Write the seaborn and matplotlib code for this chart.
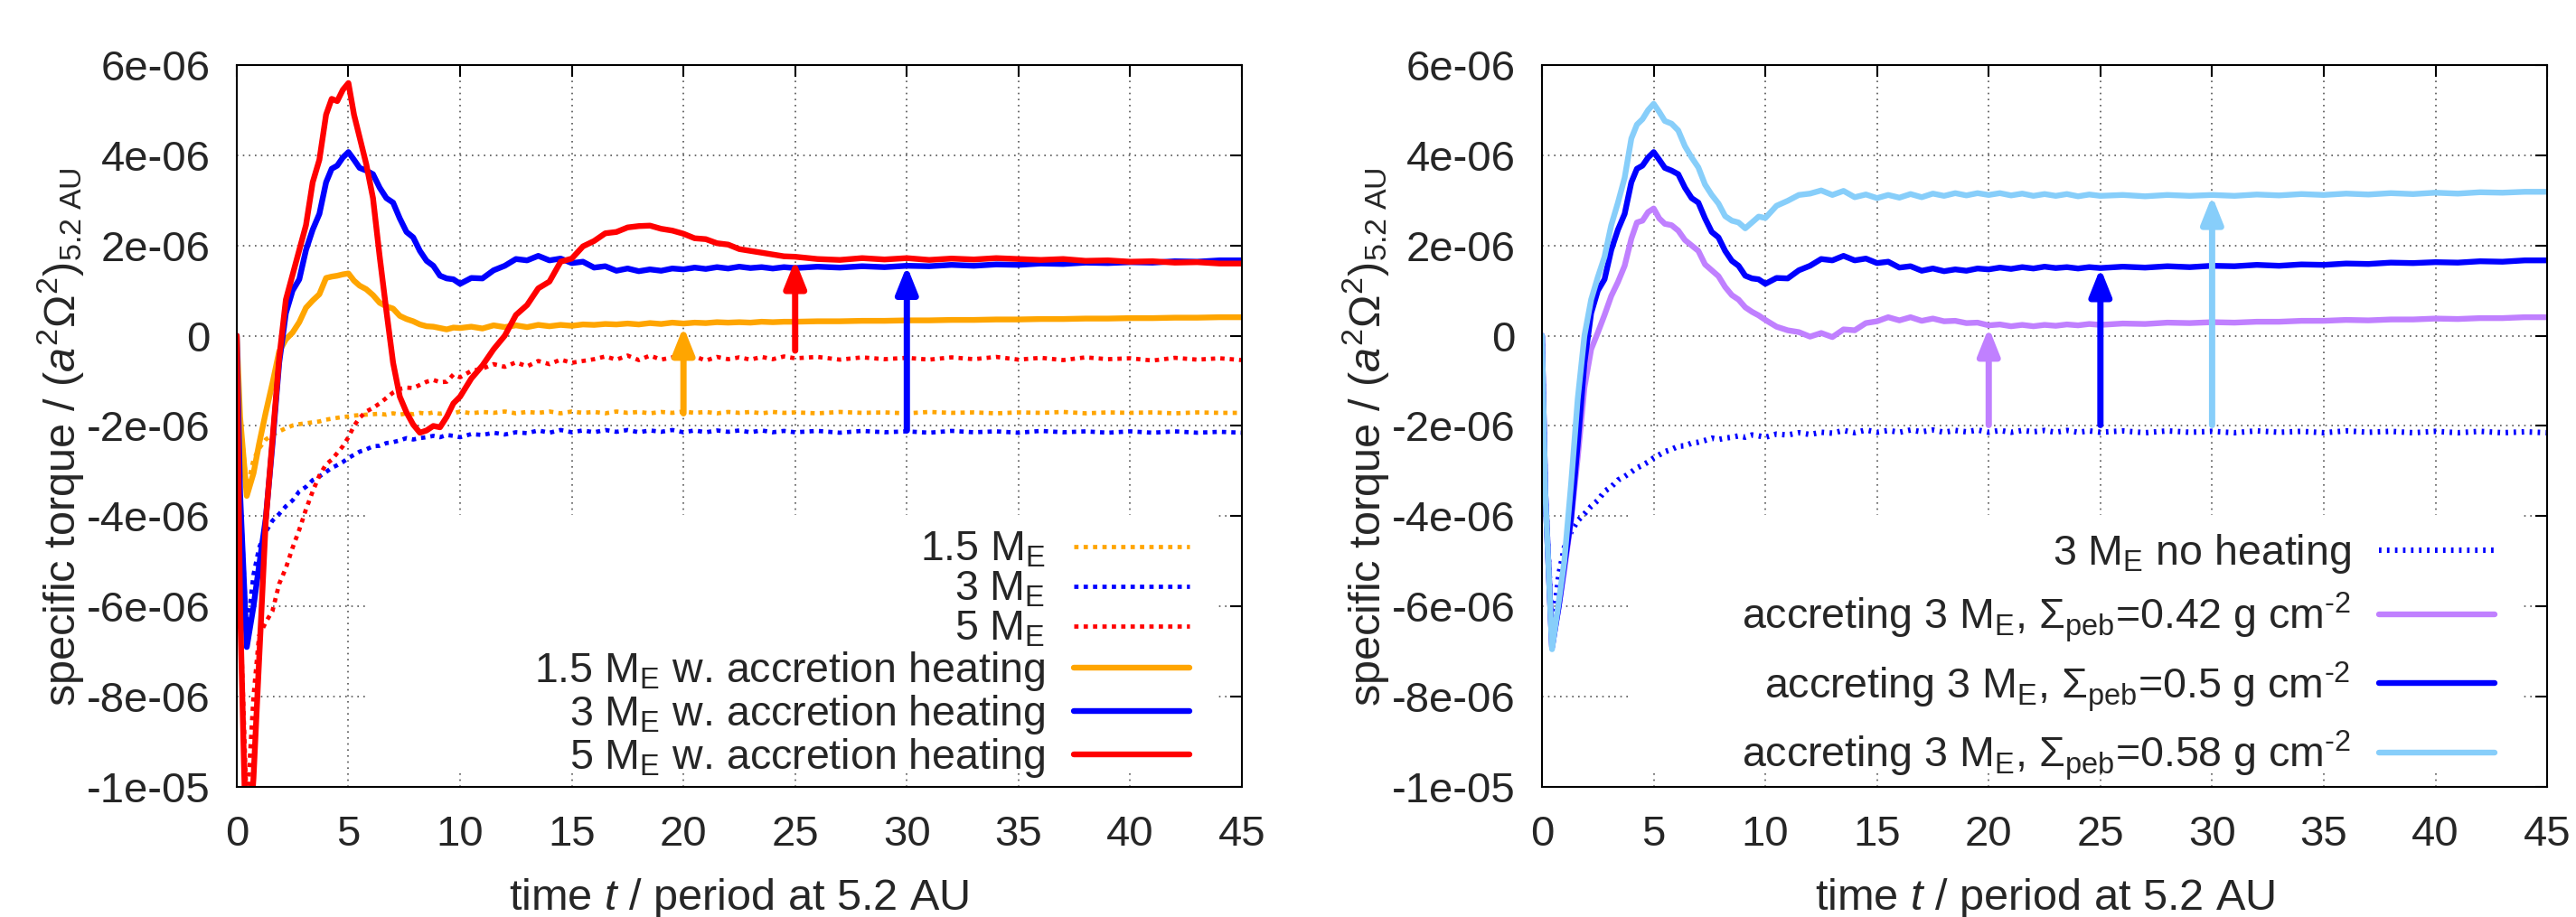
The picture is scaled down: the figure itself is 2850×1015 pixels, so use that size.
import numpy as np
import pandas as pd
import matplotlib
matplotlib.use("Agg")
import matplotlib.pyplot as plt
from matplotlib.patches import Rectangle
import seaborn as sns

# --- data (torque in units of 1e-6) ---
time = [
    0, 0.15, 0.45, 0.75, 1.0, 1.3, 1.6, 1.9, 2.2, 2.5,
    2.8, 3.1, 3.4, 3.7, 4.0, 4.25, 4.5, 4.75, 5.0, 5.25,
    5.5, 5.8, 6.1, 6.4, 6.7, 7.0, 7.3, 7.6, 7.9, 8.2,
    8.5, 8.8, 9.1, 9.4, 9.7, 10.0, 10.5, 11.0, 11.5, 12.0,
    12.5, 13.0, 13.5, 14.0, 14.5, 15.0, 15.5, 16.0, 16.5, 17.0,
    17.5, 18.0, 18.5, 19.0, 19.5, 20.0, 20.5, 21.0, 21.5, 22.0,
    22.5, 23.0, 23.5, 24.0, 24.5, 25, 26, 27, 28, 29,
    30, 31, 32, 33, 34, 35, 36, 37, 38, 39,
    40, 41, 42, 43, 44, 45,
]

# no accretion heating (dotted)
m15_plain = [
    0, -1.8, -3.4, -2.75, -2.5, -2.3, -2.2, -2.12, -2.05, -1.99,
    -1.96, -1.94, -1.92, -1.9, -1.86, -1.84, -1.82, -1.8, -1.79, -1.77,
    -1.76, -1.75, -1.74, -1.73, -1.75, -1.72, -1.75, -1.72, -1.74, -1.71,
    -1.73, -1.7, -1.73, -1.7, -1.72, -1.68, -1.72, -1.69, -1.71, -1.68,
    -1.72, -1.69, -1.71, -1.68, -1.72, -1.68, -1.71, -1.69, -1.72, -1.68,
    -1.71, -1.69, -1.72, -1.69, -1.71, -1.68, -1.71, -1.69, -1.72, -1.69,
    -1.71, -1.69, -1.72, -1.69, -1.71, -1.7, -1.72, -1.69, -1.71, -1.7,
    -1.72, -1.69, -1.71, -1.7, -1.72, -1.7, -1.71, -1.69, -1.72, -1.7,
    -1.71, -1.7, -1.72, -1.7, -1.71, -1.71,
]
m3_plain = [
    0, -3.5, -6.6, -5.3, -4.7, -4.35, -4.1, -3.95, -3.78, -3.65,
    -3.45, -3.35, -3.2, -3.12, -3.02, -2.93, -2.87, -2.8, -2.71, -2.64,
    -2.57, -2.52, -2.45, -2.44, -2.38, -2.36, -2.32, -2.27, -2.3, -2.27,
    -2.25, -2.22, -2.25, -2.2, -2.22, -2.25, -2.18, -2.2, -2.15, -2.19,
    -2.14, -2.16, -2.1, -2.15, -2.09, -2.14, -2.1, -2.14, -2.09, -2.13,
    -2.09, -2.14, -2.1, -2.13, -2.09, -2.14, -2.1, -2.14, -2.1, -2.13,
    -2.1, -2.14, -2.1, -2.14, -2.11, -2.14, -2.11, -2.15, -2.11, -2.14,
    -2.12, -2.15, -2.11, -2.14, -2.12, -2.15, -2.11, -2.14, -2.12, -2.15,
    -2.12, -2.15, -2.12, -2.15, -2.13, -2.15,
]
m5_plain = [
    0, -6.0, -10.5, -8.0, -6.65, -6.35, -6.1, -5.5, -5.15, -4.7,
    -4.3, -3.85, -3.45, -3.1, -2.85, -2.75, -2.6, -2.45, -2.25, -2.0,
    -1.82, -1.68, -1.6, -1.5, -1.38, -1.26, -1.18, -1.15, -1.16, -1.09,
    -1.02, -0.98, -1.03, -1.02, -0.86, -0.92, -0.78, -0.73, -0.63, -0.69,
    -0.59, -0.68, -0.56, -0.63, -0.53, -0.6, -0.56, -0.52, -0.46, -0.53,
    -0.44, -0.54, -0.44, -0.53, -0.48, -0.5, -0.46, -0.55, -0.47, -0.52,
    -0.48, -0.53, -0.47, -0.52, -0.46, -0.5, -0.47, -0.53, -0.48, -0.52,
    -0.49, -0.53, -0.48, -0.52, -0.47, -0.53, -0.49, -0.54, -0.48, -0.52,
    -0.5, -0.55, -0.49, -0.53, -0.5, -0.54,
]

# with accretion heating (solid)
m15_heat = [
    0, -1.8, -3.55, -3.05, -2.4, -1.7, -1.05, -0.35, -0.08, 0.07,
    0.3, 0.62, 0.78, 0.92, 1.28, 1.31, 1.33, 1.36, 1.38, 1.22,
    1.11, 1.03, 0.9, 0.73, 0.65, 0.6, 0.44, 0.37, 0.32, 0.25,
    0.21, 0.2, 0.17, 0.14, 0.18, 0.17, 0.2, 0.16, 0.23, 0.19,
    0.23, 0.19, 0.24, 0.21, 0.24, 0.22, 0.25, 0.24, 0.26, 0.25,
    0.27, 0.25, 0.28, 0.26, 0.29, 0.27, 0.29, 0.28, 0.3, 0.29,
    0.3, 0.29, 0.31, 0.3, 0.31, 0.31, 0.32, 0.32, 0.33, 0.33,
    0.34, 0.34, 0.35, 0.35, 0.36, 0.36, 0.37, 0.37, 0.38, 0.38,
    0.39, 0.39, 0.4, 0.4, 0.41, 0.41,
]
m3_heat = [
    0, -3.5, -6.9, -6.0, -5.1, -4.05, -2.4, -0.6, 0.5, 1.0,
    1.25, 1.9, 2.35, 2.7, 3.4, 3.7, 3.77, 3.95, 4.07, 3.9,
    3.72, 3.66, 3.58, 3.28, 3.05, 2.95, 2.6, 2.3, 2.18, 1.88,
    1.66, 1.55, 1.33, 1.27, 1.25, 1.15, 1.28, 1.27, 1.45, 1.55,
    1.7, 1.67, 1.77, 1.67, 1.71, 1.61, 1.64, 1.51, 1.54, 1.44,
    1.49, 1.43, 1.47, 1.44, 1.49, 1.47, 1.51, 1.48, 1.52, 1.49,
    1.53, 1.5, 1.52, 1.49, 1.52, 1.5, 1.53, 1.51, 1.54, 1.52,
    1.55, 1.54, 1.57, 1.55, 1.58, 1.57, 1.6, 1.59, 1.62, 1.61,
    1.63, 1.62, 1.65, 1.64, 1.67, 1.67,
]
m5_heat = [
    0, -6.0, -12.0, -9.8, -7.2, -4.1, -2.3, -0.5, 0.8, 1.35,
    1.9, 2.45, 3.4, 3.9, 4.9, 5.25, 5.2, 5.45, 5.6, 4.9,
    4.4, 3.8, 3.05, 1.75, 0.55, -0.6, -1.35, -1.7, -1.97, -2.15,
    -2.1, -2.0, -2.03, -1.8, -1.5, -1.35, -0.95, -0.66, -0.3, 0.0,
    0.46, 0.68, 1.05, 1.2, 1.64, 1.71, 1.98, 2.1, 2.27, 2.3,
    2.4, 2.43, 2.44, 2.37, 2.33, 2.26, 2.16, 2.14, 2.05, 2.02,
    1.92, 1.88, 1.84, 1.8, 1.76, 1.75, 1.7, 1.68, 1.72, 1.69,
    1.72, 1.68, 1.71, 1.69, 1.72, 1.7, 1.68, 1.7, 1.66, 1.67,
    1.64, 1.65, 1.62, 1.63, 1.6, 1.6,
]

# accreting 3 M_E for other pebble surface densities
peb042 = [
    0, -3.5, -6.9, -6.0, -5.2, -4.1, -2.7, -1.15, -0.3, 0.07,
    0.46, 0.88, 1.19, 1.55, 2.15, 2.51, 2.55, 2.74, 2.82, 2.6,
    2.48, 2.45, 2.33, 2.12, 2.0, 1.88, 1.58, 1.45, 1.32, 1.08,
    0.9, 0.8, 0.63, 0.53, 0.45, 0.35, 0.2, 0.12, 0.08, -0.02,
    0.06, -0.03, 0.14, 0.12, 0.28, 0.32, 0.41, 0.34, 0.41, 0.33,
    0.38, 0.32, 0.33, 0.28, 0.29, 0.23, 0.25, 0.21, 0.24, 0.21,
    0.24, 0.22, 0.25, 0.23, 0.26, 0.24, 0.27, 0.26, 0.29, 0.28,
    0.3, 0.29, 0.31, 0.31, 0.33, 0.33, 0.35, 0.34, 0.36, 0.36,
    0.38, 0.37, 0.39, 0.39, 0.41, 0.41,
]
peb058 = [
    0, -3.5, -6.95, -5.9, -5.0, -3.3, -1.4, 0.0, 0.8, 1.3,
    1.75, 2.45, 2.95, 3.5, 4.37, 4.68, 4.8, 5.0, 5.14, 4.96,
    4.76, 4.7, 4.55, 4.2, 3.95, 3.73, 3.35, 3.12, 2.93, 2.65,
    2.55, 2.51, 2.38, 2.51, 2.64, 2.61, 2.88, 2.99, 3.12, 3.15,
    3.22, 3.12, 3.21, 3.07, 3.13, 3.05, 3.12, 3.06, 3.14, 3.07,
    3.15, 3.1, 3.16, 3.11, 3.16, 3.12, 3.16, 3.11, 3.15, 3.1,
    3.14, 3.1, 3.14, 3.09, 3.13, 3.1, 3.12, 3.09, 3.12, 3.1,
    3.12, 3.1, 3.13, 3.11, 3.14, 3.12, 3.15, 3.13, 3.16, 3.14,
    3.17, 3.15, 3.18, 3.17, 3.19, 3.19,
]

# arrows (time, start, end), units of 1e-6
arrow_left_t = [20, 25, 30]
arrow_left_from = [-1.72, -0.33, -2.1]
arrow_left_to = [0.2, 1.68, 1.55]
arrow_right_t = [20, 25, 30]
arrow_right_from = [-1.98, -1.98, -1.98]
arrow_right_to = [0.18, 1.5, 3.1]

xticks = [0, 5, 10, 15, 20, 25, 30, 35, 40, 45]
yticks = [6, 4, 2, 0, -2, -4, -6, -8, -10]
ytick_labels = ["6e-06", "4e-06", "2e-06", "0", "-2e-06", "-4e-06",
                "-6e-06", "-8e-06", "-1e-05"]

labels_left = [r"1.5 M$_\mathrm{E}$", r"3 M$_\mathrm{E}$", r"5 M$_\mathrm{E}$",
               r"1.5 M$_\mathrm{E}$ w. accretion heating",
               r"3 M$_\mathrm{E}$ w. accretion heating",
               r"5 M$_\mathrm{E}$ w. accretion heating"]
labels_right = [r"3 M$_\mathrm{E}$ no heating",
                r"accreting 3 M$_\mathrm{E}$, $\Sigma_\mathrm{peb}$=0.42 g cm$^\text{-2}$",
                r"accreting 3 M$_\mathrm{E}$, $\Sigma_\mathrm{peb}$=0.5 g cm$^\text{-2}$",
                r"accreting 3 M$_\mathrm{E}$, $\Sigma_\mathrm{peb}$=0.58 g cm$^\text{-2}$"]

ORANGE, BLUE, RED = "#FFA500", "#0000FF", "#FF0000"
PURPLE, LIGHTBLUE = "#C080FF", "#87CEFA"

sns.set_style("white")
plt.rcParams["font.family"] = ["Liberation Sans", "DejaVu Sans"]
plt.rcParams["mathtext.fontset"] = "custom"
plt.rcParams["mathtext.rm"] = "Liberation Sans"
plt.rcParams["mathtext.it"] = "Liberation Sans:italic"
plt.rcParams["mathtext.bf"] = "Liberation Sans:bold"

df = pd.DataFrame({"t": time, "m15_plain": m15_plain, "m3_plain": m3_plain,
                   "m5_plain": m5_plain, "m15_heat": m15_heat, "m3_heat": m3_heat,
                   "m5_heat": m5_heat, "peb042": peb042, "peb058": peb058})
scale = 1e-6

fig = plt.figure(figsize=(28.5, 10.15), dpi=100)
ax1 = fig.add_axes([0.0919, 0.1419, 0.3902, 0.7872])
ax2 = fig.add_axes([0.5986, 0.1419, 0.3902, 0.7872])

dot_thin = dict(linewidth=3.4, linestyle=(0, (1.0, 1.2)), dash_capstyle="butt")
dot_thick = dict(linewidth=4.4, linestyle=(0, (0.45, 1.0)), dash_capstyle="butt")
solid = dict(linewidth=4.6, linestyle="-")


def draw(ax, col, color, label, style):
    sns.lineplot(x=df["t"], y=df[col] * scale, ax=ax, color=color, label=label,
                 estimator=None, sort=False, errorbar=None, **style)


# left panel
draw(ax1, "m15_plain", ORANGE, labels_left[0], dot_thin)
draw(ax1, "m3_plain", BLUE, labels_left[1], dot_thin)
draw(ax1, "m5_plain", RED, labels_left[2], dot_thin)
draw(ax1, "m15_heat", ORANGE, labels_left[3], solid)
draw(ax1, "m3_heat", BLUE, labels_left[4], solid)
draw(ax1, "m5_heat", RED, labels_left[5], solid)

# right panel
draw(ax2, "m3_plain", BLUE, labels_right[0], dot_thick)
draw(ax2, "peb042", PURPLE, labels_right[1], solid)
draw(ax2, "m3_heat", BLUE, labels_right[2], solid)
draw(ax2, "peb058", LIGHTBLUE, labels_right[3], solid)


def arrows(ax, ts, y0s, y1s, colors):
    for t, y0, y1, c in zip(ts, y0s, y1s, colors):
        ax.annotate("", xy=(t, y1 * scale), xytext=(t, y0 * scale),
                    arrowprops=dict(arrowstyle="-|>,head_length=0.6,head_width=0.24",
                                    color=c, lw=5.0, shrinkA=0, shrinkB=0,
                                    mutation_scale=30), zorder=3)


arrows(ax1, arrow_left_t, arrow_left_from, arrow_left_to, [ORANGE, RED, BLUE])
arrows(ax2, arrow_right_t, arrow_right_from, arrow_right_to, [PURPLE, BLUE, LIGHTBLUE])

for ax, box_x0 in [(ax1, 0.131), (ax2, 0.09)]:
    ax.set_xlim(0, 45)
    ax.set_ylim(-1e-5, 6e-6)
    ax.set_xticks(xticks)
    ax.set_xticklabels([str(v) for v in xticks])
    ax.set_yticks([v * scale for v in yticks])
    ax.set_yticklabels(ytick_labels)
    ax.tick_params(direction="in", length=9.5, width=1.5, top=True, right=True,
                   labelsize=34, color="black")
    ax.tick_params(axis="y", pad=21)
    ax.tick_params(axis="x", pad=22)
    ax.grid(True, color="#555555", linestyle=(0, (1, 3)), linewidth=1.2)
    ax.set_axisbelow(True)
    for sp in ax.spines.values():
        sp.set_linewidth(1.5)
        sp.set_color("black")
    # opaque key area hides the grid
    ax.add_patch(Rectangle((box_x0, 0.02), 0.975 - box_x0, 0.357,
                           transform=ax.transAxes, facecolor="white",
                           edgecolor="none", zorder=1))
    ax.set_xlabel(r"time $t$ / period at 5.2 AU", fontsize=35)
    ax.xaxis.set_label_coords(0.5, -0.124)
    ax.set_ylabel(r"specific torque / $(a^2\Omega^2)_\mathrm{5.2\ AU}$", fontsize=35)
    ax.yaxis.set_label_coords(-0.150, 0.485)

ax1.legend(loc="lower right", bbox_to_anchor=(0.948, 0.01), markerfirst=False,
           frameon=False, fontsize=33.5, handlelength=2.75, handletextpad=0.68,
           labelspacing=0.0, borderpad=0, borderaxespad=0)
ax2.legend(loc="lower right", bbox_to_anchor=(0.948, 0.006), markerfirst=False,
           frameon=False, fontsize=33.5, handlelength=2.75, handletextpad=0.68,
           labelspacing=0.36, borderpad=0, borderaxespad=0)

fig.savefig("out.png", dpi=100)
